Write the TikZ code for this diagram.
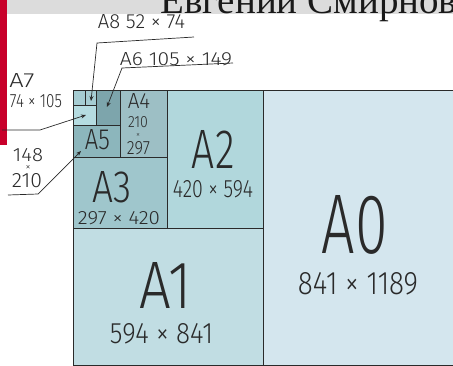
\documentclass[tikz,border=0pt]{standalone}
\usepackage{fontspec}
\usepackage{graphicx}
\setmainfont{Liberation Serif}
\newfontfamily\hand{Fira Sans Light}
\usetikzlibrary{arrows.meta}
\definecolor{cA0}{HTML}{D4E6EE}
\definecolor{cA1}{HTML}{C1DDE3}
\definecolor{cA2}{HTML}{B1D7DC}
\definecolor{cA3}{HTML}{9FC6CC}
\definecolor{cA4}{HTML}{9DBFC5}
\definecolor{cA5}{HTML}{8CB6BC}
\definecolor{cA6}{HTML}{7DA5AC}
\definecolor{cA7}{HTML}{B5DCE1}
\definecolor{cA8}{HTML}{A6CDD3}
\definecolor{ink}{HTML}{2A2A2A}
\definecolor{barred}{HTML}{C8002A}
\definecolor{bargray}{HTML}{DCDCDC}
\newcommand\handtxt[3]{\resizebox{#1pt}{#2pt}{\hand #3}}
\tikzset{
  sheet/.style={draw=ink, line width=0.9pt, inner sep=0pt, outer sep=0pt, anchor=north west},
  lbl/.style={inner sep=0pt, outer sep=0pt, text=ink},
  arr/.style={draw=ink, line width=0.7pt, -{Stealth[length=5pt,width=4pt]}},
}
\begin{document}
\begin{tikzpicture}[x=1pt,y=-1pt]
\useasboundingbox (0,0) rectangle (453,365);
\clip (0,0) rectangle (453,365);
% header bars
\fill[bargray] (7,0) rectangle (453,14);
\fill[barred] (0,0) rectangle (7,145);
\node[anchor=base west, inner sep=0pt, text=black!90, font=\fontsize{39}{39}\selectfont] (title) at (160,13) {Евгений Смирнов};
% sheets
\node[sheet, fill=cA0, minimum width=190pt, minimum height=275pt] (A0) at (263,90) {};
\node[sheet, fill=cA1, minimum width=190pt, minimum height=137pt] (A1) at (73,228) {};
\node[sheet, fill=cA2, minimum width=96pt, minimum height=138pt] (A2) at (167,90) {};
\node[sheet, fill=cA3, minimum width=94pt, minimum height=71pt] (A3) at (73,157) {};
\node[sheet, fill=cA4, minimum width=47pt, minimum height=67pt] (A4) at (120,90) {};
\node[sheet, fill=cA5, minimum width=47pt, minimum height=32pt] (A5) at (73,125) {};
\node[sheet, fill=cA6, minimum width=24pt, minimum height=35pt] (A6) at (96,90) {};
\node[sheet, fill=cA7, minimum width=23pt, minimum height=20pt] (A7) at (73,105) {};
\node[sheet, fill=cA8, minimum width=12pt, minimum height=15pt] (A8a) at (73,90) {};
\node[sheet, fill=cA8, minimum width=11pt, minimum height=15pt] (A8b) at (85,90) {};
% labels inside
\node[lbl] (tA0) at (355,225) {\handtxt{66}{58}{A0}};
\node[lbl] (sA0) at (358,284) {\handtxt{120}{22}{841 × 1189}};
\node[lbl] (tA1) at (166,285) {\handtxt{52}{46}{A1}};
\node[lbl] (sA1) at (161.5,334) {\handtxt{103}{20}{594 × 841}};
\node[lbl] (tA2) at (213.5,149) {\handtxt{43}{38}{A2}};
\node[lbl] (sA2) at (213,189) {\handtxt{80}{17}{420 × 594}};
\node[lbl] (tA3) at (112.5,187.5) {\handtxt{39}{31}{A3}};
\node[lbl] (sA3) at (119,218.5) {\handtxt{82}{13}{297 × 420}};
\node[lbl] (tA4) at (139,100.5) {\handtxt{22}{15}{A4}};
\node[lbl] (sA4a) at (138,122.5) {\handtxt{20}{11}{210}};
\node[lbl] (sA4x) at (138,135.5) {\handtxt{4}{4}{×}};
\node[lbl] (sA4b) at (138.5,148.5) {\handtxt{23}{13}{297}};
\node[lbl] (tA5) at (97.5,140) {\handtxt{25}{20}{A5}};
% labels outside
\node[lbl] (tA7) at (22,81) {\handtxt{25}{14}{A7}};
\node[lbl] (sA7) at (36,101.5) {\handtxt{52}{13}{74 × 105}};
\node[lbl] (sA5a) at (28,155.5) {\handtxt{30}{13}{148}};
\node[lbl] (sA5x) at (28,167.5) {\handtxt{5}{5}{×}};
\node[lbl] (sA5b) at (27,180.5) {\handtxt{30}{14}{210}};
\node[lbl] (lA8) at (141.5,22) {\handtxt{87}{14}{A8 52 × 74}};
\node[lbl] (lA6) at (176,59.5) {\handtxt{112}{13}{A6 105 × 149}};
% connectors
\coordinate (u8r) at (194,37);
\coordinate (u8l) at (97,43);
\coordinate (t8) at (91,101);
\draw[arr] (u8r) -- (u8l) -- (t8);
\coordinate (u6r) at (233,63);
\coordinate (u6l) at (122,68);
\coordinate (t6) at (107,107);
\draw[arr] (u6r) -- (u6l) -- (t6);
\coordinate (u7l) at (2,130);
\coordinate (u7r) at (40,130);
\coordinate (t7) at (86,115);
\draw[arr] (u7l) -- (u7r) -- (t7);
\coordinate (u5l) at (8,195);
\coordinate (u5r) at (38,194);
\coordinate (t5) at (81,151);
\draw[arr] (u5l) -- (u5r) -- (t5);
\end{tikzpicture}
\end{document}
